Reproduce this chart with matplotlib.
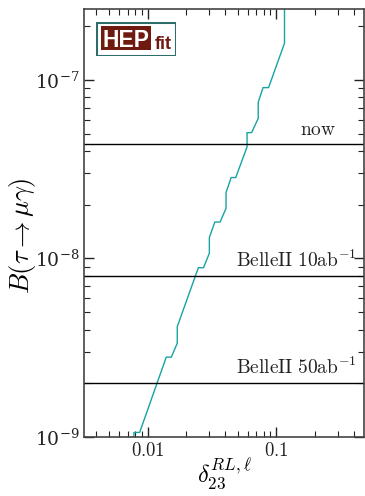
import numpy as np
import matplotlib
matplotlib.use('Agg')
import matplotlib.pyplot as plt
from matplotlib.patches import Rectangle
from matplotlib.ticker import LogFormatterMathtext, FixedLocator, FixedFormatter, NullFormatter

plt.rcParams['mathtext.fontset'] = 'cm'
plt.rcParams['font.family'] = 'serif'
plt.rcParams['font.serif'] = ['DejaVu Serif']

# bound on delta_23 vs BR(tau -> mu gamma)
delta = [0.00783, 0.00783, 0.00867, 0.01396, 0.01527, 0.0170, 0.0170, 0.0248, 0.0272,
         0.0302, 0.0302, 0.0333, 0.0366, 0.0407, 0.0407, 0.0446, 0.0484, 0.0593,
         0.0593, 0.0643, 0.0724, 0.0724, 0.0789, 0.0871, 0.1159, 0.1159]
br = [9.0e-10, 1.06e-9, 1.06e-9, 2.80e-9, 2.80e-9, 3.35e-9, 4.15e-9, 8.88e-9, 8.88e-9,
      1.07e-8, 1.31e-8, 1.60e-8, 1.60e-8, 1.91e-8, 2.34e-8, 2.84e-8, 2.84e-8, 4.22e-8,
      5.07e-8, 5.07e-8, 6.09e-8, 7.50e-8, 9.06e-8, 9.06e-8, 1.607e-7, 3.0e-7]

limits = [4.4e-8, 8.0e-9, 2.0e-9]
limit_labels = [r'$\mathrm{now}$', r'$\mathrm{BelleII\ 10ab}^{-1}$', r'$\mathrm{BelleII\ 50ab}^{-1}$']
label_x = [0.29, 0.42, 0.42]

fig = plt.figure(figsize=(3.65, 4.96), dpi=100)
ax = fig.add_axes([0.230, 0.119, 0.767, 0.863])

ax.plot(delta, br, color='#17a3a3', lw=1.0)
for yv, lab, xl in zip(limits, limit_labels, label_x):
    ax.axhline(yv, color='black', lw=1.0)
    ax.text(xl, yv * 1.12, lab, ha='right', va='baseline', fontsize=14, color='#222222')

ax.set_xscale('log')
ax.set_yscale('log')
ax.set_xlim(0.0032, 0.48)
ax.set_ylim(1e-9, 2.5e-7)

ax.xaxis.set_major_locator(FixedLocator([0.01, 0.1]))
ax.xaxis.set_major_formatter(FixedFormatter([r'$0.01$', r'$0.1$']))
ax.xaxis.set_minor_formatter(NullFormatter())
ax.yaxis.set_major_formatter(LogFormatterMathtext())
ax.yaxis.set_minor_formatter(NullFormatter())
ax.tick_params(which='both', direction='in', top=True, right=True, colors='#222222',
               labelsize=13.5)
ax.tick_params(which='major', length=7, width=1)
ax.tick_params(which='minor', length=4, width=0.8)
for s in ax.spines.values():
    s.set_color('#444444')
    s.set_linewidth(1.2)

ax.set_xlabel(r'$\delta_{23}^{RL,\ell}$', fontsize=17.5, labelpad=-2)
ax.set_ylabel(r'$B(\tau\to\mu\gamma)$', fontsize=19)
ax.yaxis.set_label_coords(-0.165, 0.47)

# HEPfit logo
lg = fig.add_axes([0.262, 0.888, 0.219, 0.0685])
lg.set_xlim(0, 1)
lg.set_ylim(0, 1)
lg.axis('off')
lg.add_patch(Rectangle((0, 0), 1, 1, facecolor='white', edgecolor='#2e6e6a', lw=2.2))
lg.add_patch(Rectangle((0.066, 0.17), 0.624, 0.69, facecolor='#6e1a10', edgecolor='none'))
lg.text(0.375, 0.24, 'HEP', color='white', fontsize=16.5, fontweight='bold',
        family='Liberation Sans', ha='center', va='baseline')
lg.text(0.845, 0.18, 'fit', color='#6e1a10', fontsize=13, fontweight='bold',
        family='Liberation Sans', ha='center', va='baseline')

fig.savefig('out.png', dpi=100)
